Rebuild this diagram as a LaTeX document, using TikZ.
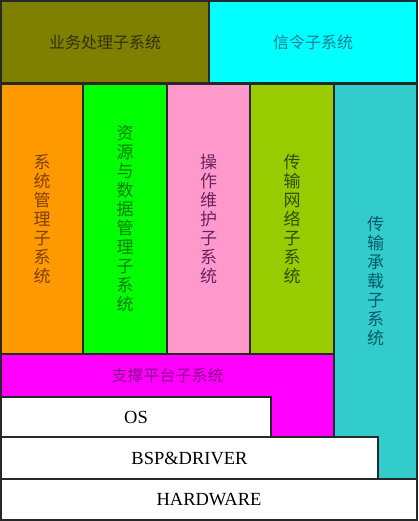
\documentclass[tikz,border=0pt]{standalone}
\usepackage{fontspec}
\setmainfont{Liberation Serif}
\newfontfamily\cjk{Noto Sans CJK SC}
\definecolor{edge}{RGB}{40,40,40}
\definecolor{olivef}{RGB}{128,128,0}
\definecolor{olivet}{RGB}{50,50,0}
\definecolor{cyanf}{RGB}{0,255,255}
\definecolor{cyant}{RGB}{30,125,145}
\definecolor{orangef}{RGB}{255,153,0}
\definecolor{oranget}{RGB}{130,65,0}
\definecolor{greenf}{RGB}{0,255,0}
\definecolor{greent}{RGB}{0,125,0}
\definecolor{pinkf}{RGB}{255,153,204}
\definecolor{pinkt}{RGB}{105,35,95}
\definecolor{limef}{RGB}{153,204,0}
\definecolor{limet}{RGB}{45,80,0}
\definecolor{tealf}{RGB}{51,204,204}
\definecolor{tealt}{RGB}{0,90,105}
\definecolor{magf}{RGB}{255,0,255}
\definecolor{magt}{RGB}{140,0,140}
\tikzset{
  box/.style={draw=edge, line width=1.2pt, anchor=north west, inner sep=0pt, outer sep=0pt},
  hlab/.style={font=\cjk\fontsize{16}{18}\selectfont},
  vlab/.style={font=\cjk\fontsize{17}{19}\selectfont, align=center},
  elab/.style={font=\fontsize{18.5}{22}\selectfont}
}
\begin{document}
\begin{tikzpicture}[x=1pt,y=-1pt]
\useasboundingbox (0,0) rectangle (419,521);
% top row
\node[box, fill=olivef, minimum width=208pt, minimum height=82pt, hlab, text=olivet] (biz) at (1,1) {业务处理子系统};
\node[box, fill=cyanf, minimum width=208pt, minimum height=82pt, hlab, text=cyant] (sig) at (209,1) {信令子系统};
% columns
\node[box, fill=orangef, minimum width=82pt, minimum height=270pt, vlab, text=oranget] (sysm) at (1,84) {系\\统\\管\\理\\子\\系\\统};
\node[box, fill=greenf, minimum width=84pt, minimum height=270pt, vlab, text=greent] (res) at (83,84) {资\\源\\与\\数\\据\\管\\理\\子\\系\\统};
\node[box, fill=pinkf, minimum width=83pt, minimum height=270pt, vlab, text=pinkt] (oam) at (167,84) {操\\作\\维\\护\\子\\系\\统};
\node[box, fill=limef, minimum width=84pt, minimum height=270pt, vlab, text=limet] (tnet) at (250,84) {传\\输\\网\\络\\子\\系\\统};
\node[box, fill=tealf, minimum width=83pt, minimum height=395pt, vlab, text=tealt] (tbear) at (334,84) {传\\输\\承\\载\\子\\系\\统};
% support platform
\node[box, fill=magf, minimum width=333pt, minimum height=83pt] (sup) at (1,354) {};
\node[hlab, text=magt] (suplab) at (167.5,375.5) {支撑平台子系统};
% lower layers
\node[box, fill=white, minimum width=270pt, minimum height=40pt, elab] (os) at (1,397) {OS};
\node[box, fill=white, minimum width=377pt, minimum height=42pt, elab] (bsp) at (1,437) {BSP\&DRIVER};
\node[box, fill=white, minimum width=416pt, minimum height=41pt, elab] (hw) at (1,479) {HARDWARE};
\end{tikzpicture}
\end{document}
